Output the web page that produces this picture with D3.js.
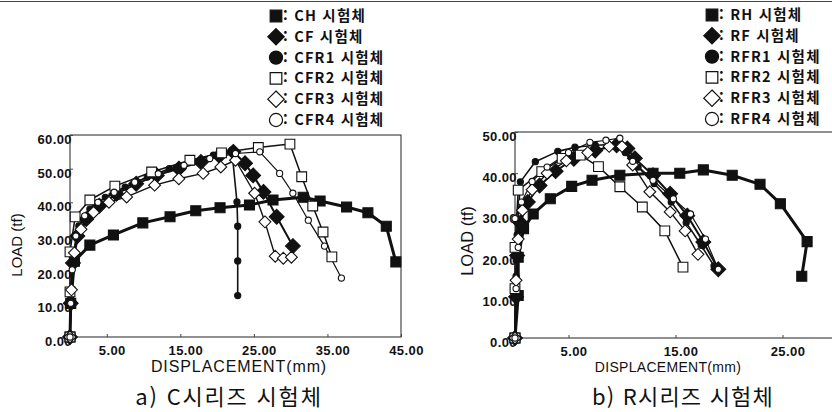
<!DOCTYPE html>
<html lang="ko">
<head>
  <meta charset="UTF-8">
  <title>C / R 시리즈 하중-변위</title>
  <script src="https://d3js.org/d3.v7.min.js"></script>
  <style>
    body { margin: 0; background: #fff; }
    svg { display: block; background: #fff; }
    .tick text { font-family: "Liberation Sans", Arial, sans-serif; font-size: 13px; font-weight: bold; letter-spacing: 0.4px; fill: #111; }
    .axis-title { font-family: "Liberation Sans", Arial, sans-serif; fill: #111; }
    .legend { font-family: "Noto Sans CJK KR", "Liberation Sans", sans-serif; font-size: 14.5px; font-weight: bold; letter-spacing: 1.2px; fill: #111; }
    .caption { font-family: "Noto Sans CJK KR", sans-serif; font-size: 22px; fill: #111; }
  </style>
</head>
<body>
  <svg width="832" height="412"></svg>

  <script>
    // ---- data (displacement mm, load tf) ----
    const cTicksX = [5, 15, 25, 35, 45];
    const cTicksY = [0, 10, 20, 30, 40, 50, 60];
    const rTicksX = [5, 15, 25];
    const rTicksY = [0, 10, 20, 30, 40, 50];

    const chData = [[0,0],[0.1,10],[0.6,22.5],[2.7,27.3],[5.9,30.3],[9.9,33.9],[13.6,35.7],[17.1,37.5],[20.4,38.4],[24.4,39.2],[27.6,40.7],[31.7,41.5],[34,40.4],[37.6,38.6],[40.5,36.9],[43,32.9],[44.3,22.3]];
    const cfData = [[0,0],[0.1,10],[0.4,22],[1,30],[2.2,35],[4,39],[6.3,42.5],[9,45.5],[11.8,48],[14.8,50],[17.8,52],[20.3,53.8],[22.2,55],[23.8,51.6],[24.9,48],[26.3,43.1],[28.1,35.7],[30.3,27]];
    const cfr1Data = [[0,0],[0.1,12],[0.4,24],[1.2,33],[2.7,38],[4.8,41.5],[7.5,44.5],[10.5,47.5],[13.5,50],[16.5,52],[19.5,54],[22,55.5],[22.7,40.1],[22.8,32.9],[22.8,22.6],[22.8,12.3]];
    const cfr2Data = [[0,0],[0,13.4],[0,25.3],[0.7,35.7],[2.7,40.7],[6.1,44.8],[11.1,49],[16.3,52.5],[20.6,54.7],[25.6,56.3],[29.9,57.3],[31.5,47.6],[33,38.9],[34.4,31.2],[35.6,23.8]];
    const cfr3Data = [[0,0],[0.2,14],[0.6,25],[1.5,32],[3.2,37],[5.3,40],[7.7,41.6],[11.5,45.1],[14.8,47],[18.1,48.6],[20.5,50.5],[22.5,52.5],[25.1,42.7],[26.5,34.2],[27.9,24],[29,23.4],[30.1,23.7]];
    const cfr4Data = [[0,0],[0.1,10],[0.3,20],[0.8,30],[2,36],[3.8,40],[6,43],[8.8,46],[12,48.5],[15.5,51],[19,53],[22.5,54.5],[25.8,55],[28.5,48.6],[30.3,42.7],[32.4,34.7],[34.6,27],[36.9,17.5]];

    const rhData = [[0,0],[0.3,10.3],[0.3,19.6],[0.8,26.5],[1.7,30.1],[3.3,33.8],[5.3,36.8],[7.2,38.3],[9.8,39.5],[12.9,40],[15.4,40],[17.6,40.8],[20.3,39.5],[22.9,37.3],[24.8,32.6],[27.3,23.4],[26.8,15]];
    const rfData = [[0,0],[0.1,10],[0.2,20],[0.5,28],[1.2,33],[2.3,37],[3.8,40.5],[5.5,43.5],[7.5,45.5],[9.5,46.8],[10.5,46],[11.2,43.6],[12.9,39.5],[14.5,35],[16.1,29.7],[17.6,23.3],[19,16.7]];
    const rfr1Data = [[0,0],[0.1,15],[0.2,25],[0.5,37.9],[1.9,42.8],[4,45.3],[5.6,46.3],[7.5,46.8],[9.5,47],[10.3,45],[11.5,41.5],[13,37.5],[14.6,33],[16,28],[17.4,22.5],[18.6,17.5]];
    const rfr2Data = [[0,0],[0,12],[0,22],[0.3,35.9],[2.5,40.4],[4.4,43.6],[6.1,44.4],[7.8,41.6],[9.8,36.7],[11.9,31.8],[14,26],[15.7,17.2]];
    const rfr3Data = [[0,0],[0.1,14],[0.3,24],[0.7,31],[1.6,36],[3,40],[4.8,43],[6.8,45],[8.8,46.5],[10,46.5],[11,42],[12.6,35.5],[14.5,30.6],[15.9,26],[17.1,20.3]];
    const rfr4Data = [[0,0],[0.1,12],[0.3,22],[0,29],[0.6,33],[1.6,38],[3,41.5],[5,45],[7,47.5],[8.5,48],[9.8,48.5],[11,42.9],[12.9,38.3],[14.8,33.8],[16.4,30.1],[17.8,24],[19,16.7]];

    const cNames = ["CH", "CF", "CFR1", "CFR2", "CFR3", "CFR4"];
    const rNames = ["RH", "RF", "RFR1", "RFR2", "RFR3", "RFR4"];

    // ---- marker styles, same order for both panels ----
    const diamond = {
      draw(ctx, size) {
        const r = Math.sqrt(size / 2);
        ctx.moveTo(0, -r); ctx.lineTo(r, 0); ctx.lineTo(0, r); ctx.lineTo(-r, 0); ctx.closePath();
      }
    };
    const styles = [
      { type: d3.symbolSquare, filled: true,  size: 100, lw: 3 },
      { type: diamond,         filled: true,  size: 110, lw: 2 },
      { type: d3.symbolCircle, filled: true,  size: 30,  lw: 1.6 },
      { type: d3.symbolSquare, filled: false, size: 95,  lw: 1.5 },
      { type: diamond,         filled: false, size: 70,  lw: 1.4 },
      { type: d3.symbolCircle, filled: false, size: 30,  lw: 1.2 }
    ];

    const svg = d3.select("svg");

    // page border from the scan
    svg.append("line").attr("x1", 0).attr("x2", 832).attr("y1", 1.5).attr("y2", 1.5)
      .attr("stroke", "#444").attr("stroke-width", 1);

    function panel(opt) {
      const x = d3.scaleLinear().domain(opt.xDomain).range(opt.xRange);
      const y = d3.scaleLinear().domain(opt.yDomain).range(opt.yRange);
      const g = svg.append("g");

      // frame
      g.append("rect")
        .attr("x", opt.xRange[0]).attr("y", opt.yRange[1])
        .attr("width", opt.xRange[1] - opt.xRange[0])
        .attr("height", opt.yRange[0] - opt.yRange[1])
        .attr("fill", "none").attr("stroke", "#222").attr("stroke-width", 1);

      // axes
      const xa = g.append("g")
        .attr("transform", `translate(0,${opt.yRange[0]})`)
        .call(d3.axisBottom(x).tickValues(opt.xTicks).tickSize(-3).tickPadding(9).tickFormat(d3.format(".2f")));
      xa.selectAll("text").attr("dx", 5);
      const ya = g.append("g")
        .attr("transform", `translate(${opt.xRange[0]},0)`)
        .call(d3.axisLeft(y).tickValues(opt.yTicks).tickSize(-3).tickPadding(-1).tickFormat(d3.format(".2f")));
      ya.selectAll("text").attr("dy", "0.65em").attr("dx", 1);
      g.selectAll(".domain").remove();
      g.selectAll(".tick line").attr("stroke", "#444");

      g.append("text").attr("class", "axis-title")
        .attr("text-anchor", "middle")
        .attr("transform", `translate(${opt.yTitleX},${opt.yTitleY}) rotate(-90)`)
        .style("font-size", opt.yTitleSize + "px")
        .text("LOAD (tf)");
      g.append("text").attr("class", "axis-title")
        .attr("text-anchor", "middle")
        .attr("x", opt.xTitleX).attr("y", 372)
        .style("font-size", opt.xTitleSize + "px")
        .style("letter-spacing", opt.xTitleLs + "px")
        .text("DISPLACEMENT(mm)");
      g.append("text").attr("class", "caption")
        .attr("text-anchor", "middle")
        .attr("x", opt.captionX).attr("y", 405)
        .style("letter-spacing", opt.captionLs + "px")
        .text(opt.caption);

      const line = d3.line().x(d => x(d[0])).y(d => y(d[1]));

      opt.series.forEach((s, i) => {
        const st = styles[i];
        g.append("path").datum(s)
          .attr("d", line)
          .attr("fill", "none").attr("stroke", "#111")
          .attr("stroke-width", st.lw).attr("stroke-linejoin", "round");
      });
      opt.series.forEach((s, i) => {
        const st = styles[i];
        g.selectAll(null).data(s).enter().append("path")
          .attr("transform", d => `translate(${x(d[0])},${y(d[1])})`)
          .attr("d", d3.symbol().type(st.type).size(st.size))
          .attr("fill", st.filled ? "#111" : "#fff")
          .attr("stroke", "#111").attr("stroke-width", 1.1);
      });

      // legend
      const lg = g.append("g");
      opt.names.forEach((n, i) => {
        const st = styles[i];
        const ly = opt.legendY + i * 20.8;
        lg.append("path")
          .attr("transform", `translate(${opt.legendX},${ly})`)
          .attr("d", d3.symbol().type(st.type).size(135))
          .attr("fill", st.filled ? "#111" : "#fff")
          .attr("stroke", "#111").attr("stroke-width", 1.2);
        lg.append("text").attr("class", "legend")
          .attr("x", opt.legendX + 7).attr("y", ly + 5)
          .text(`: ${n} 시험체`);
      });
    }

    panel({
      xDomain: [0, 45], xRange: [70, 401],
      yDomain: [0, 60], yRange: [337, 135],
      xTicks: cTicksX, yTicks: cTicksY,
      series: [chData, cfData, cfr1Data, cfr2Data, cfr3Data, cfr4Data],
      names: cNames,
      legendX: 276, legendY: 16,
      yTitleX: 22, yTitleY: 245, yTitleSize: 15,
      xTitleX: 239, xTitleSize: 16, xTitleLs: 0.9,
      captionX: 229, captionLs: 1.8,
      caption: "a) C시리즈 시험체"
    });

    panel({
      xDomain: [0, 30], xRange: [515, 836],
      yDomain: [0, 50], yRange: [338, 132],
      xTicks: rTicksX, yTicks: rTicksY,
      series: [rhData, rfData, rfr1Data, rfr2Data, rfr3Data, rfr4Data],
      names: rNames,
      legendX: 712, legendY: 15,
      yTitleX: 473, yTitleY: 241, yTitleSize: 16.5,
      xTitleX: 668, xTitleSize: 14, xTitleLs: 0.3,
      captionX: 683, captionLs: 1.2,
      caption: "b) R시리즈 시험체"
    });
  </script>
</body>
</html>
